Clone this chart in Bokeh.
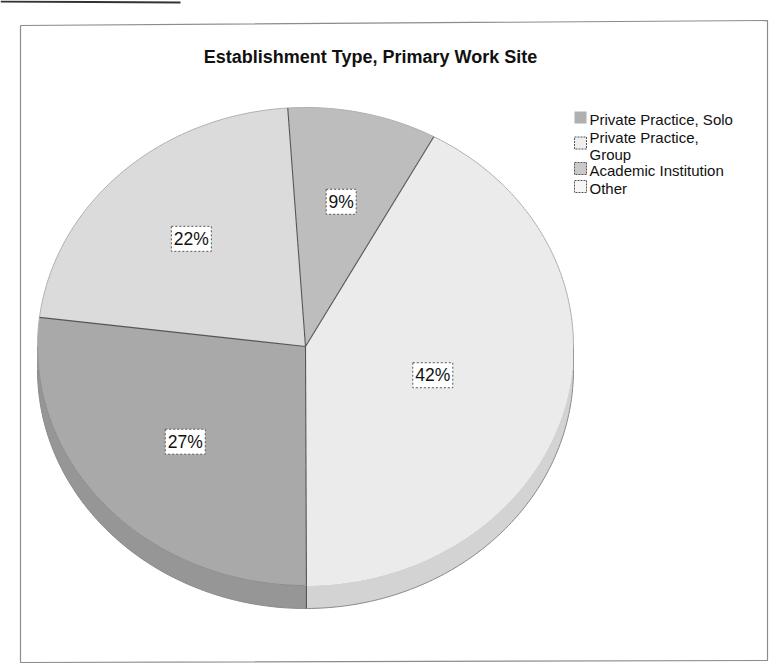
import numpy as np
from bokeh.plotting import figure
from bokeh.models import Range1d, ColumnDataSource
from bokeh.core.properties import value
from bokeh.embed import file_html
from bokeh.resources import INLINE

# ---- data ----
title = "Establishment Type, Primary Work Site"
categories = ["Private Practice, Solo", "Private Practice, Group", "Academic Institution", "Other"]
legend_labels = ["Private Practice, Solo", "Private Practice,\nGroup", "Academic Institution", "Other"]
percent = [9, 42, 27, 22]

# ---- styles ----
top_colors = ["#bdbdbd", "#ebebeb", "#a9a9a9", "#dbdbdb"]
side_colors = ["#a0a0a0", "#d3d3d3", "#969696", "#c4c4c4"]
swatch_colors = ["#b0b0b0", "#efefef", "#c9c9c9", "#f6f6f6"]
swatch_lines = [None, "#555555", "#555555", "#555555"]
label_frac = [0.62, 0.49, 0.60, 0.62]
FONT = "Liberation Sans"

W, H = 770, 669
cx, cy, rx, ry, depth = 305.0, 346.0, 268.0, 239.0, 23.0
start_deg = -3.8

p = figure(width=W, height=H, x_range=Range1d(0, W), y_range=Range1d(H, 0),
           output_backend="svg", toolbar_location=None, min_border=0)
p.axis.visible = False
p.grid.visible = False
p.outline_line_color = None
p.background_fill_color = "white"
p.border_fill_color = "white"


def ex(t, dy=0.0):
    r = np.radians(t)
    return cx + rx * np.sin(r), cy - ry * np.cos(r) + dy


total = float(sum(percent))
angles = np.cumsum([0] + [v / total * 360.0 for v in percent]) + start_deg

# sides (front half: 90..270 deg clockwise from top)
side_xs, side_ys, side_c = [], [], []
for i in range(len(percent)):
    a0, a1 = max(angles[i], 90.0), min(angles[i + 1], 270.0)
    if a1 > a0:
        t = np.linspace(a0, a1, 80)
        x1, y1 = ex(t)
        x2, y2 = ex(t[::-1], depth)
        side_xs.append(list(np.concatenate([x1, x2])))
        side_ys.append(list(np.concatenate([y1, y2])))
        side_c.append(side_colors[i])
p.patches(side_xs, side_ys, fill_color=side_c, line_color=None)

# top faces
top_xs, top_ys = [], []
for i in range(len(percent)):
    t = np.linspace(angles[i], angles[i + 1], 120)
    x, y = ex(t)
    top_xs.append([cx] + list(x))
    top_ys.append([cy] + list(y))
p.patches(top_xs, top_ys, fill_color=top_colors, line_color=None)

# outline rim
t = np.linspace(-90, 90, 200)
x, y = ex(t)
p.line(x, y, line_color="#b0b0b0", line_width=1)
t = np.linspace(90, 270, 200)
x, y = ex(t, depth)
p.line(x, y, line_color="#8a8a8a", line_width=1)
t = np.linspace(180, 270, 100)
x, y = ex(t)
p.line(x, y, line_color="#8c8c8c", line_width=1)
for ang in (90.0, 270.0):
    xa, ya = ex(ang)
    p.segment(xa, ya, xa, ya + depth, line_color="#999999", line_width=1)

# radial edges
for i in range(len(percent)):
    xa, ya = ex(angles[i])
    p.segment(cx, cy, xa, ya, line_color="#555555", line_width=1.1)
    if 90 < (angles[i] % 360) < 270:
        p.segment(xa, ya, xa, ya + depth, line_color="#555555", line_width=1.1)

# percentage labels
mids = (angles[:-1] + angles[1:]) / 2
lx, ly = [], []
for m, f in zip(mids, label_frac):
    r = np.radians(m)
    lx.append(cx + f * rx * np.sin(r))
    ly.append(cy - f * ry * np.cos(r))
texts = [f"{v}%" for v in percent]
src = ColumnDataSource(dict(x=lx, y=ly, text=texts,
                            w=[10.0 * len(s) + 10 for s in texts]))
p.rect("x", "y", width="w", height=25, source=src, fill_color="white",
       line_color="#555555", line_dash="2 2", line_width=1)
p.text("x", "y", text="text", source=src, text_align="center", text_baseline="middle",
       text_font=value(FONT), text_font_size="17.5px", text_color="#111111")

# title
p.text([370], [56], text=[title], text_font=value(FONT), text_font_style="bold",
       text_font_size="18px", text_align="center", text_baseline="middle", text_color="#111111")

# legend
tops = []
yy = 110.0
for lab in legend_labels:
    tops.append(yy)
    n = lab.count("\n") + 1
    yy += 18 + 15 * (n - 1)
nlines = [lab.count("\n") + 1 for lab in legend_labels]
sw_y = [tp + 7.5 * n - 0.5 for tp, n in zip(tops, nlines)]
p.rect([580] * len(categories), sw_y, width=12, height=12, fill_color=swatch_colors,
       line_color=swatch_lines, line_dash="2 1", line_width=1)
p.text([589] * len(categories), tops, text=legend_labels, text_font=value(FONT),
       text_font_size="15px", text_align="left", text_baseline="top",
       text_color="#111111", text_line_height=1.0)

# frame
p.line([20, 767, 767, 20, 20], [25, 20, 660, 662, 25], line_color="#8c8c8c", line_width=1.2)
p.line([0, 180], [1, 2], line_color="#333333", line_width=2)

open("out.html", "w").write(file_html(p, INLINE))
